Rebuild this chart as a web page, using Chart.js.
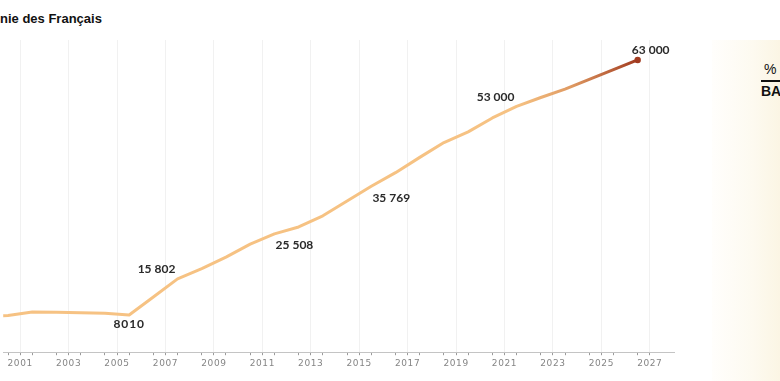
<!DOCTYPE html>
<html lang="fr">
<head>
<meta charset="utf-8">
<script src="https://cdn.jsdelivr.net/npm/chart.js@4/dist/chart.umd.min.js"></script>
<style>
  html, body { margin: 0; padding: 0; background: #fff; }
  body { width: 780px; height: 381px; position: relative; overflow: hidden; font-family: "Liberation Sans", Arial, sans-serif; }
  #title { position: absolute; left: 0; top: 11px; font-weight: bold; font-size: 13px; color: #111; white-space: nowrap; }
  #wrap { position: absolute; left: 0; top: 0; width: 680px; height: 381px; }
  #panel { position: absolute; left: 712px; top: 40px; width: 68px; height: 341px;
           background: linear-gradient(to right, #fffefc 0%, #fdfaf0 60%, #fbf5e4 100%); }
  #pct { position: absolute; left: 764px; top: 61px; font-size: 14px; color: #111; }
  #rule { position: absolute; left: 761px; top: 80px; width: 19px; height: 2px; background: #111; }
  #ba { position: absolute; left: 761px; top: 83px; font-size: 14px; font-weight: bold; color: #111; }
</style>
</head>
<body>
<div id="title">nie des Français</div>
<div id="panel"></div>
<div id="pct">%</div>
<div id="rule"></div>
<div id="ba">BA</div>
<div id="wrap"><canvas id="c"></canvas></div>
<script>
// ---- data (mid-year points) ----
const years = [1999.5, 2000.5, 2001.5, 2002.5, 2003.5, 2004.5, 2005.5, 2006.5, 2007.5, 2008.5,
               2009.5, 2010.5, 2011.5, 2012.5, 2013.5, 2014.5, 2015.5, 2016.5, 2017.5, 2018.5,
               2019.5, 2020.5, 2021.5, 2022.5, 2023.5, 2024.5, 2025.5, 2026.5];
const values = [7600, 7900, 8650, 8600, 8500, 8400, 8010, 11900, 15802, 18000,
                20500, 23300, 25508, 27000, 29400, 32600, 35769, 38700, 42000, 45200,
                47500, 50500, 53000, 54900, 56700, 58800, 60900, 63000];
const labelledYears = [2005.5, 2007.5, 2011.5, 2015.5, 2021.5, 2026.5];
const xTickYears = [2001, 2003, 2005, 2007, 2009, 2011, 2013, 2015, 2017, 2019, 2021, 2023, 2025, 2027];
const gradientFrom = 2021.5, gradientTo = 2026.5;

// ---- styling ----
const labelOffsets = { 2005.5: [0, 9], 2007.5: [-21, -10], 2011.5: [20, 11], 2015.5: [20, 12], 2021.5: [-21, -9], 2026.5: [13, -10] };
const lightColor = '#f6c283';
const darkColor = '#a23b20';

function fmt(n) {
  if (n < 10000) return String(n);
  const s = String(n);
  return s.slice(0, s.length - 3) + '\u202F' + s.slice(s.length - 3);
}

const spacingPlugin = {
  id: 'spacing',
  beforeDraw(chart) { if ('letterSpacing' in chart.ctx) chart.ctx.letterSpacing = '0.6px'; },
  afterDraw(chart) { if ('letterSpacing' in chart.ctx) chart.ctx.letterSpacing = '0px'; }
};

const labelPlugin = {
  id: 'valueLabels',
  afterDatasetsDraw(chart) {
    const { ctx, scales } = chart;
    ctx.save();
    ctx.font = 'bold 12px Lato';
    if ('letterSpacing' in ctx) ctx.letterSpacing = '0.8px';
    ctx.fillStyle = '#2a2a2a';
    ctx.textAlign = 'center';
    ctx.textBaseline = 'middle';
    labelledYears.forEach(yr => {
      const i = years.indexOf(yr);
      const off = labelOffsets[yr] || [0, -10];
      const px = scales.x.getPixelForValue(yr) + off[0];
      const py = scales.y.getPixelForValue(values[i]) + off[1];
      ctx.fillText(fmt(values[i]), px, py);
    });
    ctx.restore();
  }
};

const tickValues = xTickYears.concat(years).filter(v => v >= 2000.3 && v <= 2028).sort((a, b) => a - b);

new Chart(document.getElementById('c'), {
  type: 'line',
  data: {
    datasets: [{
      data: years.map((y, i) => ({ x: y, y: values[i] })),
      borderWidth: 3,
      tension: 0,
      borderCapStyle: 'round',
      borderJoinStyle: 'round',
      borderColor(ctx) {
        const chart = ctx.chart;
        if (!chart.chartArea) return lightColor;
        const x0 = chart.scales.x.getPixelForValue(gradientFrom);
        const x1 = chart.scales.x.getPixelForValue(gradientTo);
        const g = chart.ctx.createLinearGradient(x0, 0, x1, 0);
        g.addColorStop(0, lightColor);
        g.addColorStop(0.45, '#df9a62');
        g.addColorStop(1, darkColor);
        return g;
      },
      pointRadius: ctx => ctx.dataIndex === years.length - 1 ? 3.2 : 0,
      pointBackgroundColor: darkColor,
      pointBorderWidth: 0,
      pointHoverRadius: 0
    }]
  },
  options: {
    responsive: true,
    maintainAspectRatio: false,
    animation: false,
    events: [],
    layout: { padding: { top: 40, bottom: 9, left: 0, right: 6 } },
    plugins: { legend: { display: false }, tooltip: { enabled: false } },
    scales: {
      x: {
        type: 'linear',
        min: 2000.3,
        max: 2028,
        afterBuildTicks(scale) { scale.ticks = tickValues.map(v => ({ value: v })); },
        ticks: {
          autoSkip: false,
          maxRotation: 0,
          padding: 3,
          color: '#858585',
          font: { family: '"DejaVu Sans"', size: 9 },
          callback: v => xTickYears.includes(v) ? String(v) : ''
        },
        grid: {
          color: ctx => (ctx.tick && xTickYears.includes(ctx.tick.value)) ? '#f1f1f1' : 'rgba(0,0,0,0)',
          tickColor: '#9a9a9a',
          tickLength: 3,
          lineWidth: 1
        },
        border: { display: true, color: '#c4c4c4', width: 1 }
      },
      y: {
        display: false,
        min: 0,
        max: 67300
      }
    }
  },
  plugins: [spacingPlugin, labelPlugin]
});
</script>
</body>
</html>
